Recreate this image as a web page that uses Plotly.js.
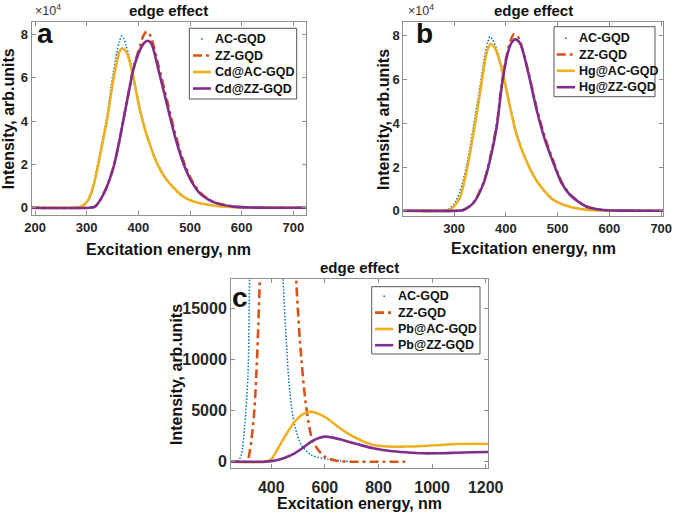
<!DOCTYPE html>
<html>
<head>
<meta charset="utf-8">
<script src="https://cdn.plot.ly/plotly-3.0.1.min.js"></script>
<style>
  html, body { margin: 0; padding: 0; background: #fff; }
  #chart { width: 675px; height: 512px; }
</style>
</head>
<body>
<div id="chart"></div>
<script>
// panel a: Cd adsorption
const aNames = ['AC-GQD', 'ZZ-GQD', 'Cd@AC-GQD', 'Cd@ZZ-GQD'];
const aAcX = [190, 275, 287, 300, 310, 319, 329, 339, 348, 358, 363, 367.6, 372, 376, 382, 390, 403, 416, 435, 455, 470, 487, 505, 520, 552, 600, 650, 730];
const aAcY = [0, 0, 500, 2800, 8200, 17400, 29700, 42000, 57400, 71200, 76500, 79200, 78000, 75000, 70000, 61500, 46000, 34500, 21500, 13200, 8800, 5300, 3000, 2000, 800, 200, 0, 0];
const aZzX = [190, 305, 316, 326, 339, 352, 361, 371, 381, 390, 403, 410, 416, 423, 439, 455, 471, 487, 503, 519, 535, 552, 584, 620, 730];
const aZzY = [0, 0, 500, 3500, 9700, 18900, 28200, 40500, 53000, 64000, 74500, 79500, 81200, 79500, 65500, 50000, 34500, 21800, 12800, 7200, 4000, 2200, 600, 100, 0];
const aCdAcX = [190, 278, 287, 300, 310, 319, 329, 339, 348, 358, 364, 369, 375, 380.5, 390, 403, 416, 422.5, 435, 455, 487, 510, 551, 600, 730];
const aCdAcY = [0, 0, 300, 2500, 7500, 16000, 28000, 40000, 54000, 67000, 72300, 73500, 72500, 69700, 60500, 45000, 33500, 29000, 21000, 12800, 5100, 2600, 800, 150, 0];
const aCdZzX = [190, 305, 316, 326, 339, 352, 361, 371, 381, 390, 403, 411, 418, 425, 439, 455, 471, 487, 503, 519, 535, 552, 584, 620, 730];
const aCdZzY = [0, 0, 500, 3500, 9700, 18900, 28200, 40500, 52800, 63500, 72700, 76000, 77000, 75800, 63500, 48000, 32800, 20500, 12000, 6600, 3800, 2000, 500, 80, 0];

// panel b: Hg adsorption
const bNames = ['AC-GQD', 'ZZ-GQD', 'Hg@AC-GQD', 'Hg@ZZ-GQD'];
const bAcX = [200, 278, 288, 300, 311, 324, 337, 350, 360, 365, 369.5, 374, 382, 395, 408, 421, 440, 459, 479, 500, 522, 554, 600, 705];
const bAcY = [0, 0, 500, 3000, 8500, 20500, 38000, 57000, 72000, 77000, 79700, 78500, 74000, 63000, 48500, 35500, 23000, 14200, 8000, 4000, 2000, 600, 100, 0];
const bZzX = [200, 308, 318, 337, 357, 369.5, 382.5, 392, 402, 410, 416, 423, 427.5, 443.5, 459.5, 475.5, 492, 508, 524, 556, 588, 620, 705];
const bZzY = [0, 0, 300, 3600, 13000, 24000, 39500, 58000, 71500, 78500, 80900, 79800, 77500, 63500, 47000, 33500, 22500, 13000, 7500, 1900, 400, 100, 0];
const bHgAcX = [200, 280, 290, 300, 312, 324.5, 337.5, 350, 360, 365, 371, 377, 382.5, 395, 408, 421, 440, 459, 479, 490, 522, 554, 600, 705];
const bHgAcY = [0, 0, 300, 2000, 6400, 18600, 35400, 53700, 69000, 74000, 76300, 75000, 72500, 62000, 47500, 34500, 22500, 13800, 7800, 5200, 1900, 500, 100, 0];
const bHgZzX = [200, 308, 318, 337, 357, 369.5, 382.5, 392, 402, 410, 418, 427.5, 443.5, 459.5, 475.5, 492, 508, 524, 556, 588, 620, 705];
const bHgZzY = [0, 0, 300, 3400, 12500, 23200, 38500, 56800, 70500, 76500, 78400, 76600, 62900, 46100, 32400, 21700, 12500, 7200, 1800, 300, 50, 0];

// panel c: Pb adsorption (pristine curves run off the top)
const cNames = ['AC-GQD', 'ZZ-GQD', 'Pb@AC-GQD', 'Pb@ZZ-GQD'];
const cAcX = [250, 270, 276, 288, 301, 313, 319, 330, 345, 367, 390, 415, 432, 444, 456, 469, 487, 512, 549, 612, 650, 700];
const cAcY = [0, 0, 50, 655, 3590, 8480, 17780, 30000, 55000, 79500, 65000, 40000, 25000, 17780, 11740, 6850, 3590, 1630, 655, 235, 80, 20];
const cZzX = [250, 300, 310, 332, 344, 357, 375, 395, 415, 440, 465, 493, 512, 531, 556, 599, 650, 700, 800, 900];
const cZzY = [0, 0, 30, 3590, 8480, 17780, 40000, 70000, 81000, 66000, 40000, 17780, 10100, 5225, 1960, 490, 60, 0, 0, 0];
const cPbAcX = [250, 380, 400, 425, 455, 487, 515, 543, 575, 610, 656, 690, 719, 750, 781, 843, 900, 967, 1030, 1092, 1150, 1210];
const cPbAcY = [0, 0, 250, 1310, 2650, 3910, 4600, 4890, 4700, 4200, 3270, 2700, 2290, 1900, 1630, 1470, 1480, 1540, 1640, 1730, 1750, 1730];
const cPbZzX = [250, 370, 400, 430, 460, 487, 520, 549, 575, 600, 625, 656, 719, 781, 843, 900, 967, 1030, 1092, 1150, 1210];
const cPbZzY = [0, 0, 60, 220, 480, 820, 1400, 1960, 2300, 2450, 2380, 2190, 1730, 1310, 1050, 920, 820, 830, 880, 920, 950];

const yTicks = [0, 20000, 40000, 60000, 80000];
const yTickText = ['0', '2', '4', '6', '8'];
const cYTicks = [0, 5000, 10000, 15000];
const cYTickText = ['0', '5000', '10000', '15000'];

const FONT = 'Liberation Sans, Arial, sans-serif';
const COLORS = ['#0072BD', '#D95319', '#EDB120', '#7E2F8E'];
const KINDS = ['dot', 'dashdot', 'solid', 'solid'];

// pixel -> paper helpers (margins are zero)
const px = v => v / 675;
const py = v => 1 - v / 512;

function lineStyle(i) {
    const l = { color: COLORS[i], width: 2.6 };
    if (KINDS[i] === 'dot') { l.width = 1.5; l.dash = '1.5px,1.8px'; }
    if (KINDS[i] === 'dashdot') { l.dash = '9px,4px,3px,4px'; }
    return l;
}

function trace(x, y, name, i, xa, ya) {
    const l = Object.assign(lineStyle(i), { shape: 'spline', smoothing: 0.8 });
    return { x: x, y: y, name: name, type: 'scatter', mode: 'lines', line: l,
             xaxis: xa, yaxis: ya, showlegend: false, hoverinfo: 'skip' };
}

const traces = [
    trace(aAcX, aAcY, aNames[0], 0, 'x', 'y'),
    trace(aZzX, aZzY, aNames[1], 1, 'x', 'y'),
    trace(aCdAcX, aCdAcY, aNames[2], 2, 'x', 'y'),
    trace(aCdZzX, aCdZzY, aNames[3], 3, 'x', 'y'),
    trace(bAcX, bAcY, bNames[0], 0, 'x2', 'y2'),
    trace(bZzX, bZzY, bNames[1], 1, 'x2', 'y2'),
    trace(bHgAcX, bHgAcY, bNames[2], 2, 'x2', 'y2'),
    trace(bHgZzX, bHgZzY, bNames[3], 3, 'x2', 'y2'),
    trace(cAcX, cAcY, cNames[0], 0, 'x3', 'y3'),
    trace(cZzX, cZzY, cNames[1], 1, 'x3', 'y3'),
    trace(cPbAcX, cPbAcY, cNames[2], 2, 'x3', 'y3'),
    trace(cPbZzX, cPbZzY, cNames[3], 3, 'x3', 'y3')
];

function axis(extra, size) {
    return Object.assign({
        showline: true, linecolor: '#8f8f8f', linewidth: 1, mirror: 'ticks',
        ticks: 'inside', ticklen: 4, tickcolor: '#8f8f8f', tickwidth: 1,
        showgrid: false, zeroline: false, fixedrange: true,
        tickfont: { family: FONT, size: size || 13, color: '#262626', weight: 'bold' }
    }, extra);
}

const txt = (text, x, y, size, opts) => Object.assign({
    text: text, xref: 'paper', yref: 'paper', x: px(x), y: py(y),
    showarrow: false, xanchor: 'center', yanchor: 'middle',
    font: { family: FONT, size: size, color: '#111', weight: 'bold' }
}, opts || {});

const shapes = [];
const annotations = [];

// MATLAB style boxed legend: short samples, tight rows
function legendBox(names, x0, x1, y0, y1, rowY, sx0, sx1, tx) {
    shapes.push({ type: 'rect', xref: 'paper', yref: 'paper', x0: px(x0), x1: px(x1), y0: py(y1), y1: py(y0),
                  line: { color: '#555555', width: 1 }, fillcolor: '#ffffff', layer: 'above' });
    names.forEach((n, i) => {
        const yy = py(rowY[i]);
        let a = sx0, b = sx1;
        if (KINDS[i] === 'dot') { const m = (sx0 + sx1) / 2; a = m - 0.8; b = m + 0.8; }
        const l = lineStyle(i);
        if (KINDS[i] === 'dot') { delete l.dash; l.width = 1.6; }
        shapes.push({ type: 'line', xref: 'paper', yref: 'paper', x0: px(a), x1: px(b), y0: yy, y1: yy,
                      line: l, layer: 'above' });
        annotations.push(txt(n, tx, rowY[i], 12.5, { xanchor: 'left' }));
    });
}

legendBox(aNames, 189.3, 296.7, 28.3, 99, [39, 55.5, 72, 88.5], 193, 211, 213);
legendBox(bNames, 554, 655, 26.7, 96.7, [38.3, 54.5, 70.8, 87.2], 556.7, 575, 576.5);
legendBox(cNames, 371.7, 480, 286.7, 354, [296.3, 312.6, 329, 345.2], 375, 393.3, 395.5);

annotations.push(
    txt('edge effect', 168.8, 10, 15),
    txt('edge effect', 533.3, 10, 15),
    txt('edge effect', 359.7, 267.5, 15),
    txt('Excitation energy, nm', 168.8, 249, 16),
    txt('Excitation energy, nm', 533.3, 248.5, 16),
    txt('Excitation energy, nm', 359.7, 503, 16),
    txt('Intensity, arb.units', 8.5, 118.8, 16, { textangle: -90 }),
    txt('Intensity, arb.units', 383, 119, 16, { textangle: -90 }),
    txt('Intensity, arb.units', 176, 374, 16, { textangle: -90 }),
    txt('a', 45, 33, 28),
    txt('b', 424.5, 33.5, 28),
    txt('c', 239.5, 297, 28),
    txt('×10<sup>4</sup>', 33, 10, 12.5, { xanchor: 'left', font: { family: FONT, size: 12.5, color: '#333', weight: 'normal' } }),
    txt('×10<sup>4</sup>', 406, 10, 12.5, { xanchor: 'left', font: { family: FONT, size: 12.5, color: '#333', weight: 'normal' } })
);

const layout = {
    width: 675, height: 512,
    margin: { l: 0, r: 0, t: 0, b: 0 },
    paper_bgcolor: '#ffffff', plot_bgcolor: '#ffffff',
    font: { family: FONT, weight: 'bold' },
    showlegend: false,
    xaxis: axis({ domain: [px(31.7), px(306)], range: [193.5, 724.5], tickvals: [200, 300, 400, 500, 600, 700], anchor: 'y' }),
    yaxis: axis({ domain: [py(215.3), py(22.3)], range: [-3500, 85540], tickvals: yTicks, ticktext: yTickText, anchor: 'x' }),
    xaxis2: axis({ domain: [px(403.3), px(663.3)], range: [202, 704], tickvals: [300, 400, 500, 600, 700], anchor: 'y2' }),
    yaxis2: axis({ domain: [py(216), py(22.3)], range: [-2430, 86230], tickvals: yTicks, ticktext: yTickText, anchor: 'x2' }),
    xaxis3: axis({ domain: [px(231), px(488.3)], range: [249.6, 1209.7], tickvals: [400, 600, 800, 1000, 1200], anchor: 'y3', ticklabelstandoff: 4 }, 16),
    yaxis3: axis({ domain: [py(468.3), py(279)], range: [-645, 17865], tickvals: cYTicks, ticktext: cYTickText, anchor: 'x3' }, 16),
    shapes: shapes,
    annotations: annotations
};

Plotly.newPlot('chart', traces, layout, { displayModeBar: false, staticPlot: true });
</script>
</body>
</html>
